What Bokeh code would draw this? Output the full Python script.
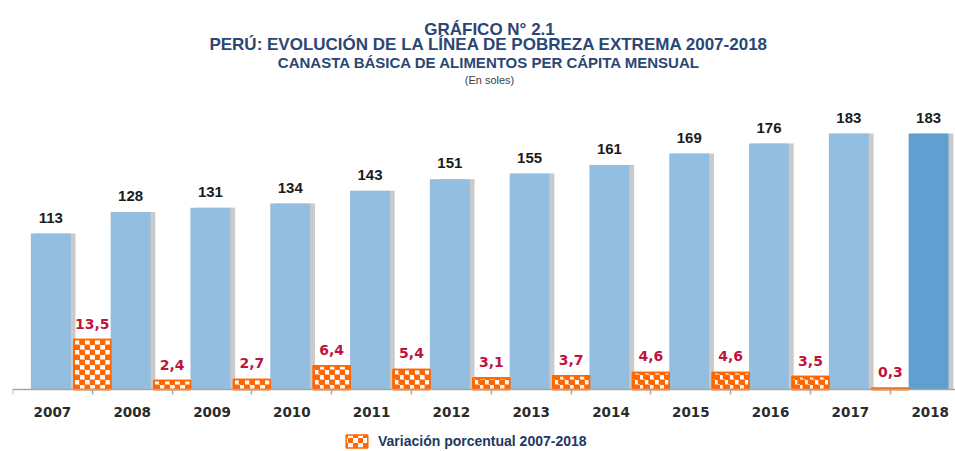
import zlib, struct, base64, math
from bokeh.plotting import figure
from bokeh.models import (Range1d, FixedTicker, Label, Legend, LegendItem,
                          ImageURLTexture, ColumnDataSource)
from bokeh.core.properties import value
from bokeh.embed import file_html
from bokeh.resources import INLINE

# ---- data ----
years = ["2007", "2008", "2009", "2010", "2011", "2012",
         "2013", "2014", "2015", "2016", "2017", "2018"]
linea = [113, 128, 131, 134, 143, 151, 155, 161, 169, 176, 183, 183]
var_years = ["2008", "2009", "2010", "2011", "2012", "2013",
             "2014", "2015", "2016", "2017", "2018"]
variacion = [13.5, 2.4, 2.7, 6.4, 5.4, 3.1, 3.7, 4.6, 4.6, 3.5, 0.3]

title1 = "GRÁFICO N° 2.1"
title2 = "PERÚ: EVOLUCIÓN DE LA LÍNEA DE POBREZA EXTREMA 2007-2018"
title3 = "CANASTA BÁSICA DE ALIMENTOS PER CÁPITA MENSUAL"
title4 = "(En soles)"
legend_label = "Variación porcentual 2007-2018"

ORANGE = "#FF6600"
BLUE = "#94BEDF"
BLUE_LAST = "#5FA0D0"

# ---- derived ----
base = 3.78           # value of the primary scale at the category axis
bar_w = 0.5
org_w = 0.46
pos = {y: i for i, y in enumerate(years)}
bx = [pos[y] + 0.48 for y in years]
shadow_x = [b + 0.06 for b in bx]
ox = [pos[y] for y in var_years]
colors = [BLUE] * (len(years) - 1) + [BLUE_LAST]
linea_labels = [str(v) for v in linea]
var_labels = [f"{v:.1f}".replace(".", ",") for v in variacion]

blue_src = ColumnDataSource(dict(x=bx, sx=shadow_x, top=linea, color=colors, lbl=linea_labels))
org_src = ColumnDataSource(dict(x=ox, top=variacion, lbl=var_labels))

# checker cells inside each orange bar (derived from the data)
ncols = 7
cell_w = org_w / ncols
cell_h = 1.35
cl, cr, cb, ct = [], [], [], []
for xc, v in zip(ox, variacion):
    left0 = xc - org_w / 2
    nrows = math.ceil(v / cell_h)
    for r in range(nrows):
        for c in range(ncols):
            if (r + c) % 2 == 0:
                cl.append(left0 + c * cell_w)
                cr.append(left0 + (c + 1) * cell_w)
                cb.append(r * cell_h)
                ct.append(min((r + 1) * cell_h, v))
cell_src = ColumnDataSource(dict(left=cl, right=cr, bottom=cb, top=ct))


def png_checker(n=10, rgb=(255, 102, 0)):
    h = n // 2
    raw = b""
    for yy in range(n):
        raw += b"\x00"
        for xx in range(n):
            raw += bytes(rgb) if ((xx // h) + (yy // h)) % 2 == 0 else b"\xff\xff\xff"

    def chunk(t, d):
        return struct.pack(">I", len(d)) + t + d + struct.pack(">I", zlib.crc32(t + d) & 0xffffffff)
    png = (b"\x89PNG\r\n\x1a\n" + chunk(b"IHDR", struct.pack(">IIBBBBB", n, n, 8, 2, 0, 0, 0))
           + chunk(b"IDAT", zlib.compress(raw)) + chunk(b"IEND", b""))
    return "data:image/png;base64," + base64.b64encode(png).decode()


W, H = 955, 451
frame_left = 12
p = figure(width=W, height=H, output_backend="svg", toolbar_location=None,
           x_range=Range1d(0, (W - frame_left) / 79.8),
           y_range=Range1d(-39.6, 276.1),
           y_axis_location=None,
           min_border_left=frame_left, min_border_right=0, min_border_top=0, min_border_bottom=0,
           outline_line_color=None, background_fill_color="white")
p.extra_y_ranges = {"var": Range1d(-16.76, 105.1)}
p.grid.visible = False

ax = p.xaxis[0]
ax.fixed_location = base
ax.ticker = FixedTicker(ticks=[i + 0.5 for i in range(len(years))],
                        minor_ticks=list(range(len(years) + 1)))
ax.major_label_overrides = {i + 0.5: y for i, y in enumerate(years)}
ax.axis_line_color = "#A6A6A6"
ax.axis_line_width = 1.5
ax.major_tick_out = 0
ax.major_tick_in = 0
ax.minor_tick_out = 5
ax.minor_tick_in = 0
ax.minor_tick_line_color = "#A6A6A6"
ax.minor_tick_line_width = 1.5
ax.major_label_standoff = 12
ax.major_label_text_font = "DejaVu Sans"
ax.major_label_text_font_style = "bold"
ax.major_label_text_font_size = "13.5px"
ax.major_label_text_color = "#2B2B2B"

# shadows + blue bars
p.vbar(x="sx", top="top", bottom=base, width=bar_w, source=blue_src,
       fill_color="#8A8A8A", fill_alpha=0.45, line_color=None)
p.vbar(x="x", top="top", bottom=base, width=bar_w, source=blue_src,
       fill_color="color", line_color=None)
p.text(x="x", y="top", text="lbl", source=blue_src, text_align="center",
       text_baseline="bottom", y_offset=-11, text_font=value("Liberation Sans"),
       text_font_style="bold", text_font_size="15px", text_color="#1C1C1C")

# orange bars: textured base (also used by the legend), checker cells, orange outline
tex = ImageURLTexture(url=png_checker())
org_base = p.vbar(x="x", top="top", width=org_w, source=org_src, y_range_name="var",
                  fill_color="white", line_color=ORANGE, line_width=1.5,
                  hatch_pattern=value("checker"), hatch_extra={"checker": tex},
                  hatch_color=ORANGE, hatch_scale=10)
p.quad(left="left", right="right", bottom="bottom", top="top", source=cell_src,
       y_range_name="var", fill_color=ORANGE, line_color=None)
p.vbar(x="x", top="top", width=org_w, source=org_src, y_range_name="var",
       fill_color=None, line_color=ORANGE, line_width=1.5)
p.text(x="x", y="top", text="lbl", source=org_src, y_range_name="var",
       text_align="center", text_baseline="bottom", y_offset=-11,
       text_font=value("DejaVu Sans"), text_font_style="bold",
       text_font_size="14px", text_color="#C0143C")

# titles (screen units relative to the frame: x from left, y from bottom)
tcolor = "#2B4674"
for txt, yb, size, style, col in [
        (title1, 29, "17px", "bold", tcolor),
        (title2, 44, "17px", "bold", tcolor),
        (title3, 62, "15px", "bold", tcolor),
        (title4, 79, "11px", "normal", "#404040")]:
    p.add_layout(Label(x=489 - frame_left, y=H - yb, x_units="screen", y_units="screen",
                       text=txt, text_align="center", text_baseline="alphabetic",
                       text_font="Liberation Sans", text_font_style=style,
                       text_font_size=size, text_color=col))

legend = Legend(items=[LegendItem(label=legend_label, renderers=[org_base])],
                location=(343 - frame_left, 2), orientation="horizontal", padding=0, margin=0,
                border_line_color=None, background_fill_alpha=0,
                glyph_width=27, glyph_height=16, label_standoff=8,
                label_height=16,
                label_text_font="Liberation Sans", label_text_font_style="bold",
                label_text_font_size="14px", label_text_color="#1F3864")
p.add_layout(legend)

open("out.html", "w").write(file_html(p, INLINE))
